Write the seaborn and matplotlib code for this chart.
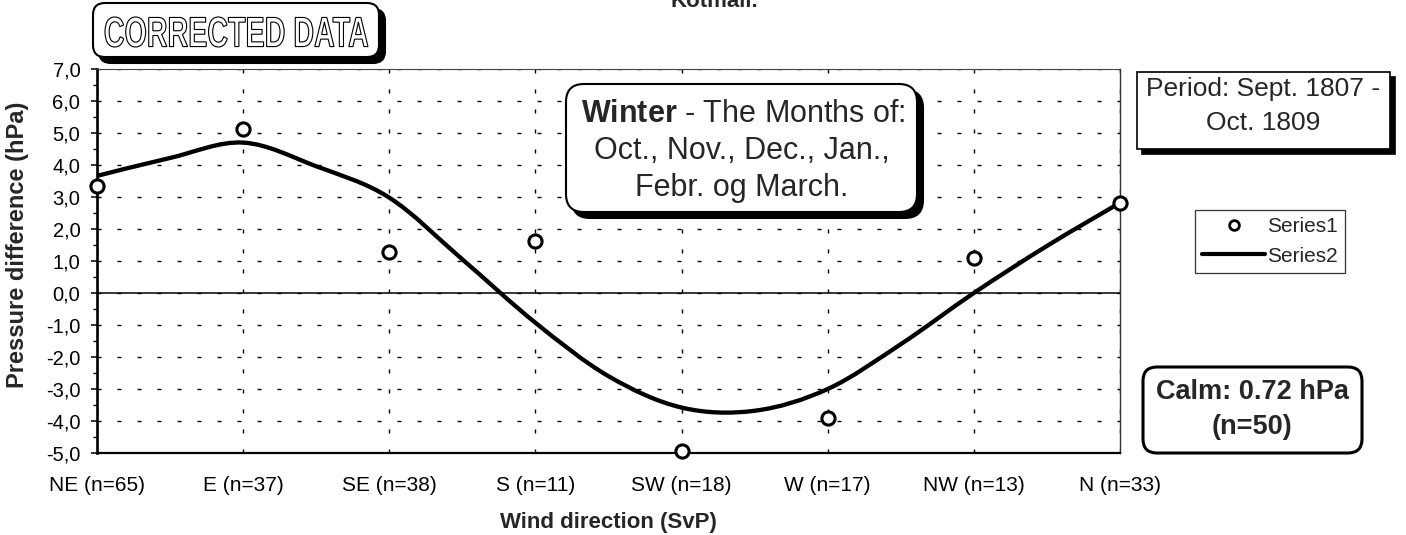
import numpy as np
import pandas as pd
import seaborn as sns
import matplotlib
matplotlib.use("Agg")
import matplotlib.pyplot as plt
from matplotlib.patches import FancyBboxPatch, PathPatch
from matplotlib.path import Path
from matplotlib.textpath import TextPath
from matplotlib.font_manager import FontProperties
from matplotlib.lines import Line2D
from matplotlib.ticker import MultipleLocator, FuncFormatter
import matplotlib.transforms as mtransforms

# ---------------- data ----------------
directions = ["NE (n=65)", "E (n=37)", "SE (n=38)", "S (n=11)",
              "SW (n=18)", "W (n=17)", "NW (n=13)", "N (n=33)"]
series1 = [3.35, 5.12, 1.29, 1.61, -4.95, -3.92, 1.08, 2.82]
curve_pos = [0, 0.5, 1, 1.5, 2, 2.5, 3, 3.5, 4, 4.5, 5, 5.5, 6, 6.5, 7]
series2 = [3.66, 4.22, 4.7, 3.96, 2.98, 1.05, -0.93, -2.6,
           -3.58, -3.68, -3.0, -1.6, 0.0, 1.47, 2.82]
y_ticks = [-5, -4, -3, -2, -1, 0, 1, 2, 3, 4, 5, 6, 7]

# ---------------- style ----------------
sns.set_style("white")
plt.rcParams["font.family"] = ["Liberation Sans", "DejaVu Sans"]
plt.rcParams["mathtext.fontset"] = "custom"
plt.rcParams["mathtext.rm"] = "Liberation Sans"
plt.rcParams["mathtext.bf"] = "Liberation Sans:bold"

W, H = 1406, 535
fig = plt.figure(figsize=(W / 100, H / 100), dpi=100)
fig.patch.set_facecolor("white")

ax = fig.add_axes([97 / W, 1 - 453 / H, (1120 - 97) / W, (453 - 69) / H])
ax.set_facecolor("white")

df1 = pd.DataFrame({"pos": np.arange(len(directions)), "value": series1})
sns.scatterplot(data=df1, x="pos", y="value", ax=ax, marker="o", s=90,
                color="white", edgecolor="black", linewidth=2.2,
                zorder=5, clip_on=False, legend=False)

# smoothed line (Excel-style smoothing via Bezier segments through the read points)
P = np.column_stack([curve_pos, series2]).astype(float)
Pm = np.vstack([P[0], P, P[-1]])
verts = [tuple(P[0])]
codes = [Path.MOVETO]
for i in range(len(P) - 1):
    p0, p1, p2, p3 = Pm[i], Pm[i + 1], Pm[i + 2], Pm[i + 3]
    c1 = p1 + (p2 - p0) / 6.0
    c2 = p2 - (p3 - p1) / 6.0
    verts += [tuple(c1), tuple(c2), tuple(p2)]
    codes += [Path.CURVE4] * 3
curve = PathPatch(Path(verts, codes), fill=False, edgecolor="black",
                  linewidth=3.1, capstyle="round", joinstyle="round", zorder=4)
ax.add_patch(curve)

ax.set_xlim(0, 7)
ax.set_ylim(-5, 7)
ax.set_xticks(range(len(directions)))
ax.set_xticklabels(directions)
ax.set_yticks(y_ticks)
ax.yaxis.set_minor_locator(MultipleLocator(0.5))
ax.yaxis.set_major_formatter(FuncFormatter(lambda v, p: f"{v:.1f}".replace(".", ",")))
ax.tick_params(axis="x", length=0, pad=16.5, labelsize=15, colors="black")
ax.tick_params(axis="y", which="major", direction="out", length=4.5, width=1.1,
               pad=7.5, labelsize=14.5, colors="black", left=True)
ax.tick_params(axis="y", which="minor", direction="out", length=3, width=1.0,
               left=True, colors="black")

ax.grid(True, which="major", axis="both", color="black", linewidth=1.0,
        linestyle=(0, (2.9, 11.5)))
ax.axhline(0, color="black", linewidth=1.1, zorder=2)

for side, lw, col in [("left", 1.9, "black"), ("bottom", 1.6, "black"),
                      ("top", 0.8, "#444444"), ("right", 1.0, "#333333")]:
    ax.spines[side].set_visible(True)
    ax.spines[side].set_linewidth(lw)
    ax.spines[side].set_color(col)

ax.set_xlabel("Wind direction (SvP)", fontsize=16, fontweight="bold", labelpad=12)
ax.set_ylabel("Pressure difference (hPa)", fontsize=17, fontweight="bold")
ax.yaxis.set_label_coords((29 - 97) / (1120 - 97), (453 - 245) / (453 - 69))

# ---------------- overlay for boxes & annotations (pixel coords) ----------------
ov = fig.add_axes([0, 0, 1, 1], zorder=6)
ov.set_xlim(0, W)
ov.set_ylim(H, 0)
ov.axis("off")
ov.patch.set_alpha(0)


def box(x, y, w, h, rounding, lw, shadow=None):
    style = f"round,pad=0,rounding_size={rounding}" if rounding else "square,pad=0"
    if shadow:
        ov.add_patch(FancyBboxPatch((x + shadow, y + shadow), w, h, boxstyle=style,
                                    fc="black", ec="black", lw=lw))
    ov.add_patch(FancyBboxPatch((x, y), w, h, boxstyle=style,
                                fc="white", ec="black", lw=lw))


# Winter box
box(566, 84, 351, 128, 18, 1.5, shadow=6)
ov.text(743, 114, r"$\mathbf{Winter}$ - The Months of:", ha="center", va="center", fontsize=22)
ov.text(742, 151, "Oct., Nov., Dec., Jan.,", ha="center", va="center", fontsize=22)
ov.text(742, 188, "Febr. og March.", ha="center", va="center", fontsize=22)

# Period box
box(1137, 72, 253, 77, 0, 1.2, shadow=5)
ov.text(1263, 89, "Period: Sept. 1807 -", ha="center", va="center", fontsize=19)
ov.text(1263, 123, "Oct. 1809", ha="center", va="center", fontsize=19)

# Calm box
box(1143, 367, 219, 86, 14, 2.2)
ov.text(1252, 392, "Calm: 0.72 hPa", ha="center", va="center", fontsize=19.5, fontweight="bold")
ov.text(1252, 427, "(n=50)", ha="center", va="center", fontsize=19.5, fontweight="bold")

# CORRECTED DATA box
box(93, 3, 286, 54, 12, 1.5, shadow=6)
tp = TextPath((0, 0), "CORRECTED DATA", size=100,
              prop=FontProperties(family="Liberation Sans", weight="bold"))
bb = tp.get_extents()
tr = (mtransforms.Affine2D().translate(-bb.x0, -bb.y0)
      .scale(263 / bb.width, -30 / bb.height).translate(105, 47))
ov.add_patch(PathPatch(tr.transform_path(tp), fc="white", ec="black", lw=0.8))

# partially visible title at the top
ov.text(714, 7, "Kotmall.", ha="center", va="baseline", fontsize=16, fontweight="bold")

# legend
handles = [Line2D([], [], marker="o", ls="none", mfc="white", mec="black", mew=2, ms=7),
           Line2D([], [], color="black", lw=3)]
leg = fig.legend(handles, ["Series1", "Series2"], loc="upper left",
                 bbox_to_anchor=(1195 / W, 1 - 210 / H), bbox_transform=fig.transFigure,
                 fontsize=15, frameon=True, fancybox=False, shadow=False,
                 handlelength=3.0, handletextpad=0.1, borderpad=0.35,
                 labelspacing=0.5, borderaxespad=0)
leg.get_frame().set_edgecolor("black")
leg.get_frame().set_linewidth(0.9)

fig.savefig("out.png", dpi=100, facecolor="white")
